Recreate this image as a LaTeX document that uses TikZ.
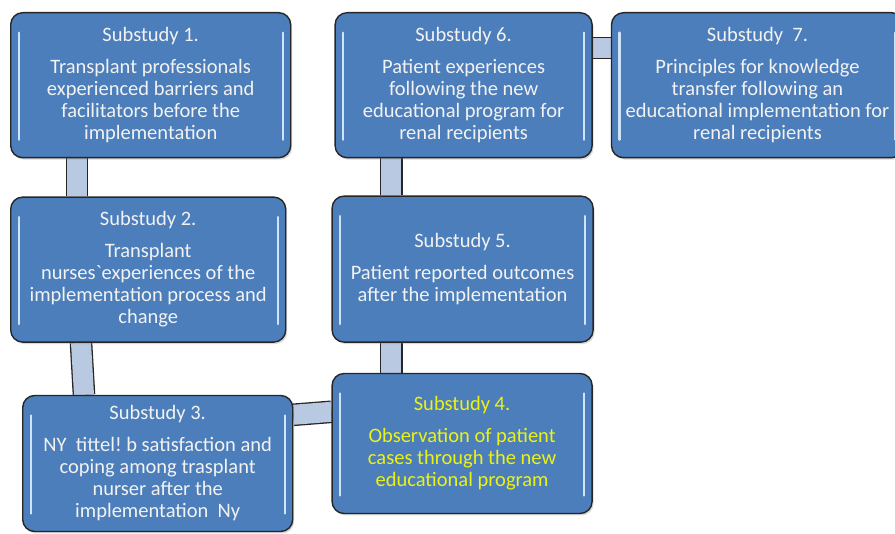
\documentclass[tikz,border=0pt]{standalone}
\usepackage{fontspec}
\setmainfont{Carlito}
\usepackage{tikz}
\usetikzlibrary{
  positioning, % for relative positioning of the boxes
  backgrounds, % to put the links behind the boxes
  shadows % for the soft shadow under each box
}
\definecolor{boxblue}{RGB}{76,126,187}
\definecolor{linkblue}{RGB}{186,201,226}
\definecolor{glow}{RGB}{205,228,250}
\definecolor{hiyellow}{RGB}{236,242,20}
\tikzset{
  study/.style={ % style for each substudy box
    rectangle,rounded corners=12pt, % rounded box
    draw=black!85,line width=1.4pt, % dark outline
    fill=boxblue, % office blue fill
    text=white!95!black, % light text
    align=center, % centered lines
    inner sep=2pt,
    minimum height=145pt,
    font=\fontsize{20.5}{22}\selectfont,
    drop shadow={shadow xshift=1.5pt,shadow yshift=-2pt,opacity=0.3},
    path picture={ % glossy strips near the left and right edges
      \draw[glow,line width=2.4pt,line cap=round]
        ([xshift=8pt,yshift=-20pt]path picture bounding box.north west) --
        ([xshift=8pt,yshift=18pt]path picture bounding box.south west)
        ([xshift=-8pt,yshift=-20pt]path picture bounding box.north east) --
        ([xshift=-8pt,yshift=18pt]path picture bounding box.south east);
    },
  },
  link/.style={ % style for the bars between boxes
    draw=black!85,line width=1.3pt, % thin dark edges
    double=linkblue,double distance=20pt, % wide light bar
  },
}

\begin{document}
\begin{tikzpicture}
  \useasboundingbox (0,0) rectangle (895pt,-534pt);

  \node[study,minimum width=280pt,anchor=north west] (s1) at (10pt,-12pt)
  {Substudy 1.\\[10pt]Transplant professionals\\experienced barriers and\\facilitators before the\\implementation};
  \node[study,minimum width=275pt,below=38pt of s1.south west,anchor=north west] (s2)
  {Substudy 2.\\[10pt]Transplant\\nurses\textasciigrave experiences of the\\implementation process and\\change};
  \node[study,minimum width=270pt,minimum height=136pt,below right=52pt and 12pt of s2.south west,anchor=north west] (s3)
  {Substudy 3.\\[10pt]NY\ \ tittel!\ b satisfaction and\\coping among trasplant\\nurser after the\\implementation\ \ Ny};

  \node[study,minimum width=257pt,right=43pt of s1.north east,anchor=north west] (s6)
  {Substudy 6.\\[10pt]Patient experiences\\following the new\\educational program for\\renal recipients};
  \node[study,minimum width=261pt,minimum height=146pt,below left=37pt and 3pt of s6.south west,anchor=north west] (s5)
  {Substudy 5.\\[10pt]Patient reported outcomes\\after the implementation};
  \node[study,minimum width=260pt,minimum height=140pt,text=hiyellow,below=30pt of s5.south west,anchor=north west] (s4)
  {Substudy 4.\\[10pt]Observation of patient\\cases through the new\\educational program};
  \node[study,minimum width=292pt,right=18pt of s6.north east,anchor=north west] (s7)
  {Substudy\ \ 7.\\[10pt]Principles for knowledge\\transfer following an\\educational implementation\ for\\renal recipients};

  \begin{scope}[on background layer]
    \draw[link] ([xshift=67pt]s1.south west) -- ([xshift=67pt]s2.north west);
    \draw[link] ([xshift=71pt]s2.south west) -- ([xshift=62pt]s3.north west);
    \draw[link] ([yshift=-20pt]s3.north east) -- ([yshift=-39pt]s4.north west);
    \draw[link] ([xshift=60pt]s4.north west) -- ([xshift=60pt]s5.south west);
    \draw[link] ([xshift=60pt]s5.north west) -- ([xshift=57pt]s6.south west);
    \draw[link] ([yshift=-36pt]s6.north east) -- ([yshift=-36pt]s7.north west);
  \end{scope}
\end{tikzpicture}
\end{document}
